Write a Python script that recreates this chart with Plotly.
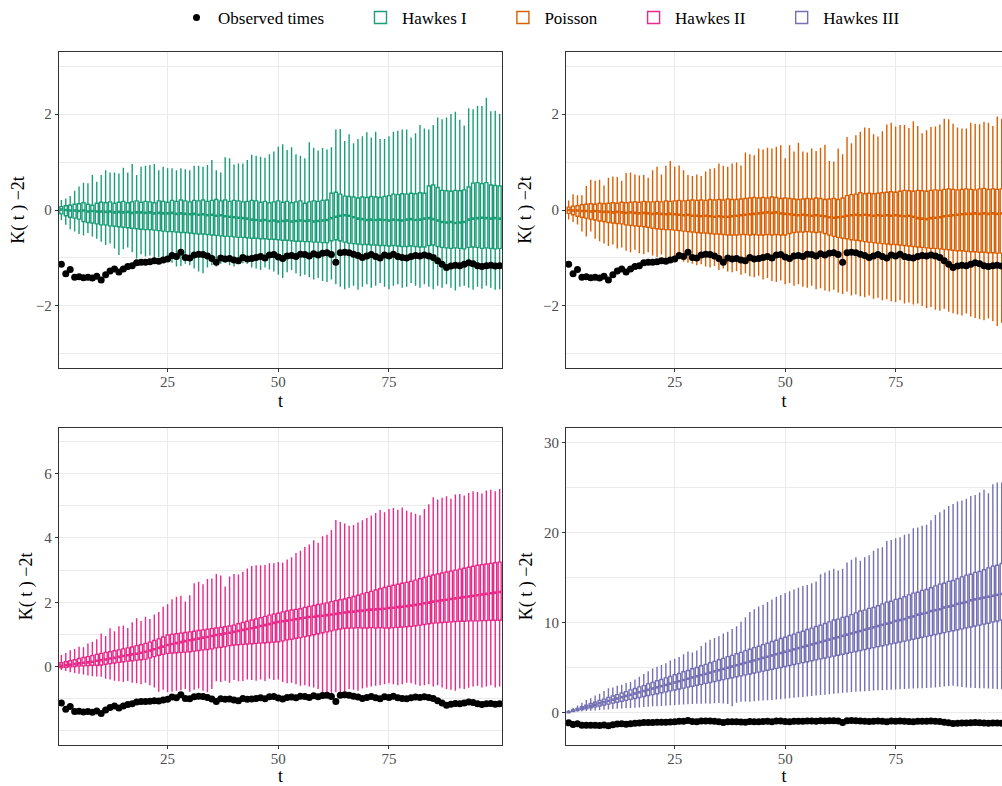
import plotly.graph_objects as go

# ---- data -------------------------------------------------------------
t = list(range(1, 101))

observed = [-1.13, -1.33, -1.24, -1.40, -1.39, -1.41, -1.40, -1.42, -1.38, -1.46,
            -1.35, -1.27, -1.23, -1.29, -1.23, -1.18, -1.16, -1.10, -1.09, -1.09,
            -1.08, -1.06, -1.07, -1.04, -1.02, -0.95, -0.97, -0.88, -0.99, -1.00,
            -0.94, -0.92, -0.93, -0.96, -1.01, -1.09, -1.00, -1.02, -1.01, -1.04,
            -1.06, -0.99, -1.02, -1.01, -0.99, -0.97, -1.00, -0.94, -0.93, -0.98,
            -1.01, -0.96, -0.95, -0.97, -0.92, -0.93, -0.96, -0.91, -0.94, -0.90,
            -0.89, -0.93, -1.09, -0.89, -0.88, -0.89, -0.92, -0.95, -0.99, -0.96,
            -0.93, -0.97, -1.00, -0.94, -0.96, -0.92, -0.97, -0.99, -1.00, -0.97,
            -0.95, -0.96, -0.94, -0.96, -0.99, -1.06, -1.13, -1.20, -1.17, -1.15,
            -1.16, -1.13, -1.10, -1.12, -1.16, -1.18, -1.16, -1.15, -1.17, -1.16]

# Hawkes I
h1_hi = [0.21, 0.24, 0.29, 0.40, 0.49, 0.57, 0.56, 0.73, 0.59, 0.73,
         0.83, 0.78, 0.78, 0.76, 0.88, 0.78, 0.96, 0.73, 0.90, 0.92,
         0.94, 0.96, 0.83, 0.90, 0.87, 0.87, 0.83, 0.87, 0.85, 0.83,
         0.92, 0.92, 0.90, 0.94, 1.04, 0.83, 0.78, 1.10, 1.08, 0.95,
         0.97, 0.97, 1.04, 1.15, 1.13, 1.11, 1.09, 1.16, 1.22, 1.32,
         1.37, 1.25, 1.31, 1.16, 1.13, 1.08, 1.41, 1.30, 1.24, 1.29,
         1.26, 1.31, 1.68, 1.69, 1.44, 1.58, 1.39, 1.48, 1.54, 1.62,
         1.51, 1.63, 1.48, 1.48, 1.54, 1.63, 1.65, 1.68, 1.68, 1.51,
         1.60, 1.77, 1.70, 1.68, 1.77, 1.93, 1.89, 1.93, 2.00, 2.05,
         1.88, 1.76, 2.12, 2.10, 2.17, 2.17, 2.34, 2.06, 2.07, 2.00]
h1_q3 = [0.07, 0.09, 0.10, 0.12, 0.13, 0.15, 0.12, 0.10, 0.14, 0.16,
         0.15, 0.17, 0.14, 0.16, 0.18, 0.15, 0.17, 0.19, 0.16, 0.18,
         0.17, 0.15, 0.19, 0.18, 0.16, 0.20, 0.18, 0.21, 0.19, 0.17,
         0.20, 0.19, 0.21, 0.18, 0.20, 0.22, 0.19, 0.21, 0.18, 0.20,
         0.19, 0.17, 0.18, 0.20, 0.19, 0.16, 0.18, 0.15, 0.17, 0.19,
         0.16, 0.18, 0.15, 0.17, 0.19, 0.14, 0.17, 0.19, 0.18, 0.20,
         0.21, 0.35, 0.37, 0.33, 0.29, 0.28, 0.27, 0.25, 0.27, 0.26,
         0.28, 0.27, 0.26, 0.28, 0.30, 0.33, 0.32, 0.34, 0.33, 0.35,
         0.34, 0.36, 0.35, 0.50, 0.52, 0.47, 0.41, 0.40, 0.39, 0.41,
         0.40, 0.42, 0.48, 0.56, 0.57, 0.55, 0.57, 0.52, 0.51, 0.50]
h1_med = [0.01, 0.00, -0.01, -0.01, -0.02, -0.01, -0.03, -0.02, -0.03, -0.03,
          -0.04, -0.03, -0.05, -0.04, -0.05, -0.04, -0.06, -0.05, -0.05, -0.06,
          -0.05, -0.07, -0.06, -0.07, -0.07, -0.06, -0.08, -0.07, -0.08, -0.09,
          -0.08, -0.10, -0.09, -0.11, -0.10, -0.12, -0.11, -0.13, -0.14, -0.15,
          -0.16, -0.17, -0.18, -0.20, -0.21, -0.22, -0.21, -0.23, -0.22, -0.24,
          -0.23, -0.22, -0.24, -0.23, -0.22, -0.23, -0.22, -0.24, -0.23, -0.22,
          -0.21, -0.17, -0.14, -0.12, -0.11, -0.12, -0.15, -0.18, -0.19, -0.21,
          -0.20, -0.21, -0.20, -0.21, -0.22, -0.20, -0.21, -0.22, -0.20, -0.19,
          -0.21, -0.20, -0.18, -0.17, -0.19, -0.22, -0.25, -0.26, -0.25, -0.27,
          -0.26, -0.25, -0.20, -0.18, -0.17, -0.16, -0.17, -0.18, -0.17, -0.18]
h1_q1 = [-0.08, -0.12, -0.15, -0.17, -0.19, -0.24, -0.26, -0.27, -0.29, -0.31,
         -0.31, -0.33, -0.34, -0.35, -0.36, -0.37, -0.38, -0.39, -0.40, -0.41,
         -0.41, -0.42, -0.43, -0.44, -0.45, -0.45, -0.46, -0.47, -0.47, -0.48,
         -0.49, -0.50, -0.50, -0.51, -0.52, -0.53, -0.54, -0.55, -0.55, -0.56,
         -0.57, -0.57, -0.58, -0.59, -0.59, -0.60, -0.60, -0.61, -0.61, -0.62,
         -0.63, -0.63, -0.64, -0.65, -0.65, -0.66, -0.66, -0.67, -0.67, -0.68,
         -0.68, -0.64, -0.62, -0.64, -0.67, -0.69, -0.70, -0.71, -0.72, -0.72,
         -0.73, -0.73, -0.74, -0.74, -0.75, -0.74, -0.75, -0.76, -0.76, -0.75,
         -0.76, -0.77, -0.77, -0.74, -0.73, -0.76, -0.78, -0.79, -0.80, -0.79,
         -0.80, -0.81, -0.78, -0.77, -0.78, -0.80, -0.79, -0.80, -0.81, -0.80]
h1_lo = [-0.21, -0.31, -0.40, -0.45, -0.50, -0.53, -0.48, -0.55, -0.60, -0.66,
         -0.73, -0.70, -0.80, -0.94, -0.82, -0.78, -0.88, -1.01, -0.92, -0.97,
         -0.95, -1.01, -0.98, -1.05, -1.08, -1.10, -1.18, -1.17, -1.12, -1.15,
         -1.22, -1.28, -1.32, -1.20, -1.15, -1.18, -1.12, -1.10, -1.15, -1.18,
         -1.13, -1.11, -1.12, -1.20, -1.22, -1.25, -1.20, -1.24, -1.28, -1.35,
         -1.42, -1.30, -1.25, -1.32, -1.38, -1.35, -1.40, -1.45, -1.42, -1.48,
         -1.50, -1.45, -1.55, -1.60, -1.65, -1.62, -1.58, -1.66, -1.60, -1.55,
         -1.62, -1.58, -1.52, -1.60, -1.65, -1.58, -1.55, -1.62, -1.60, -1.52,
         -1.58, -1.62, -1.55, -1.60, -1.65, -1.58, -1.62, -1.55, -1.62, -1.68,
         -1.60, -1.58, -1.62, -1.66, -1.60, -1.64, -1.58, -1.62, -1.66, -1.65]

# Poisson
po_hi = [0.20, 0.33, 0.31, 0.31, 0.50, 0.63, 0.61, 0.63, 0.51, 0.67,
         0.70, 0.69, 0.61, 0.77, 0.78, 0.74, 0.72, 0.73, 0.67, 0.83,
         0.90, 0.74, 0.92, 1.02, 0.90, 0.93, 0.83, 0.73, 0.71, 0.74,
         0.71, 0.80, 0.86, 0.87, 0.97, 0.92, 0.90, 0.97, 0.99, 0.93,
         1.20, 1.16, 1.14, 1.28, 1.26, 1.30, 1.28, 1.32, 1.35, 1.08,
         1.35, 1.22, 1.40, 1.22, 1.20, 1.28, 1.23, 1.30, 1.36, 1.02,
         1.01, 1.28, 1.16, 1.52, 1.39, 1.56, 1.63, 1.72, 1.71, 1.58,
         1.53, 1.64, 1.78, 1.82, 1.74, 1.77, 1.77, 1.71, 1.85, 1.75,
         1.60, 1.66, 1.73, 1.74, 1.78, 1.90, 1.89, 1.80, 1.72, 1.70,
         1.70, 1.82, 1.80, 1.79, 1.84, 1.82, 1.75, 1.95, 1.90, 1.88]
po_q3 = [0.06, 0.08, 0.09, 0.11, 0.12, 0.13, 0.12, 0.14, 0.13, 0.14,
         0.15, 0.14, 0.16, 0.15, 0.16, 0.17, 0.16, 0.18, 0.17, 0.17,
         0.18, 0.17, 0.19, 0.18, 0.19, 0.20, 0.19, 0.20, 0.21, 0.20,
         0.21, 0.20, 0.22, 0.21, 0.22, 0.21, 0.23, 0.22, 0.22, 0.23,
         0.24, 0.25, 0.26, 0.25, 0.26, 0.25, 0.27, 0.26, 0.24, 0.25,
         0.24, 0.23, 0.22, 0.23, 0.24, 0.23, 0.25, 0.24, 0.22, 0.23,
         0.24, 0.22, 0.25, 0.30, 0.32, 0.33, 0.36, 0.34, 0.35, 0.34,
         0.35, 0.36, 0.37, 0.38, 0.37, 0.39, 0.41, 0.40, 0.39, 0.41,
         0.40, 0.39, 0.41, 0.42, 0.41, 0.43, 0.44, 0.43, 0.42, 0.43,
         0.44, 0.43, 0.42, 0.44, 0.45, 0.43, 0.44, 0.43, 0.44, 0.44]
po_med = [0.00, -0.01, -0.01, -0.02, -0.02, -0.03, -0.02, -0.03, -0.04, -0.04,
          -0.05, -0.04, -0.05, -0.06, -0.05, -0.06, -0.07, -0.06, -0.07, -0.08,
          -0.07, -0.08, -0.09, -0.08, -0.09, -0.10, -0.11, -0.10, -0.12, -0.12,
          -0.13, -0.12, -0.13, -0.14, -0.13, -0.14, -0.14, -0.13, -0.12, -0.11,
          -0.10, -0.09, -0.08, -0.07, -0.06, -0.05, -0.06, -0.05, -0.07, -0.08,
          -0.09, -0.10, -0.11, -0.10, -0.11, -0.12, -0.11, -0.12, -0.13, -0.15,
          -0.16, -0.15, -0.14, -0.12, -0.11, -0.10, -0.11, -0.10, -0.11, -0.12,
          -0.11, -0.12, -0.11, -0.12, -0.11, -0.12, -0.13, -0.12, -0.14, -0.17,
          -0.18, -0.19, -0.17, -0.16, -0.15, -0.13, -0.12, -0.11, -0.10, -0.09,
          -0.08, -0.08, -0.07, -0.08, -0.07, -0.08, -0.07, -0.08, -0.07, -0.08]
po_q1 = [-0.07, -0.10, -0.13, -0.15, -0.17, -0.19, -0.21, -0.23, -0.24, -0.26,
         -0.27, -0.28, -0.29, -0.31, -0.32, -0.33, -0.34, -0.35, -0.36, -0.38,
         -0.39, -0.40, -0.41, -0.41, -0.42, -0.43, -0.44, -0.45, -0.46, -0.47,
         -0.48, -0.48, -0.49, -0.50, -0.50, -0.51, -0.52, -0.52, -0.52, -0.51,
         -0.51, -0.52, -0.51, -0.52, -0.52, -0.51, -0.52, -0.51, -0.52, -0.52,
         -0.49, -0.47, -0.46, -0.46, -0.45, -0.46, -0.47, -0.46, -0.49, -0.52,
         -0.55, -0.57, -0.59, -0.60, -0.62, -0.63, -0.64, -0.66, -0.67, -0.68,
         -0.69, -0.70, -0.71, -0.72, -0.72, -0.73, -0.74, -0.75, -0.76, -0.77,
         -0.78, -0.79, -0.80, -0.80, -0.81, -0.82, -0.83, -0.84, -0.85, -0.85,
         -0.86, -0.87, -0.87, -0.88, -0.88, -0.89, -0.89, -0.90, -0.90, -0.91]
po_lo = [-0.20, -0.25, -0.30, -0.45, -0.55, -0.45, -0.60, -0.65, -0.70, -0.75,
         -0.72, -0.80, -0.78, -0.85, -0.88, -0.83, -0.90, -0.92, -0.88, -0.95,
         -0.98, -0.93, -1.00, -1.02, -1.05, -1.03, -1.08, -1.10, -1.12, -1.15,
         -1.13, -1.18, -1.20, -1.17, -1.25, -1.22, -1.28, -1.30, -1.27, -1.35,
         -1.32, -1.38, -1.40, -1.37, -1.45, -1.42, -1.48, -1.50, -1.47, -1.55,
         -1.52, -1.58, -1.55, -1.60, -1.62, -1.58, -1.65, -1.63, -1.68, -1.70,
         -1.66, -1.72, -1.75, -1.70, -1.78, -1.76, -1.80, -1.82, -1.78, -1.85,
         -1.83, -1.88, -1.86, -1.90, -1.92, -1.88, -1.95, -1.93, -1.97, -1.95,
         -2.00, -2.05, -2.02, -2.08, -2.10, -2.06, -2.12, -2.15, -2.18, -2.20,
         -2.16, -2.22, -2.25, -2.28, -2.30, -2.26, -2.32, -2.42, -2.35, -2.38]

# Hawkes II
h2_hi = [0.36, 0.42, 0.51, 0.55, 0.62, 0.60, 0.72, 0.77, 0.85, 1.03,
         0.95, 1.19, 1.10, 1.25, 1.28, 1.20, 1.38, 1.50, 1.42, 1.55,
         1.48, 1.62, 1.70, 1.86, 1.94, 2.09, 2.17, 2.20, 2.02, 2.22,
         2.59, 2.64, 2.56, 2.72, 2.74, 2.88, 2.83, 2.49, 2.80, 2.88,
         2.86, 2.95, 3.05, 3.13, 3.15, 3.15, 3.16, 3.21, 3.21, 3.25,
         3.23, 3.33, 3.40, 3.53, 3.60, 3.72, 3.80, 3.93, 3.85, 4.05,
         4.10, 4.25, 4.56, 4.50, 4.45, 4.38, 4.40, 4.48, 4.55, 4.62,
         4.70, 4.78, 4.87, 4.80, 4.90, 4.93, 4.88, 4.95, 4.85, 4.80,
         4.75, 4.71, 4.90, 5.05, 5.27, 5.20, 5.25, 5.30, 5.22, 5.35,
         5.37, 5.32, 5.40, 5.45, 5.43, 5.38, 5.48, 5.50, 5.45, 5.52]
h2_q3 = [0.12, 0.15, 0.18, 0.21, 0.25, 0.28, 0.31, 0.34, 0.38, 0.41,
         0.44, 0.46, 0.49, 0.52, 0.55, 0.58, 0.61, 0.65, 0.68, 0.72,
         0.76, 0.81, 0.86, 0.92, 0.98, 1.00, 1.02, 1.04, 1.06, 1.08,
         1.10, 1.12, 1.14, 1.16, 1.18, 1.20, 1.22, 1.24, 1.26, 1.29,
         1.33, 1.37, 1.41, 1.45, 1.48, 1.52, 1.56, 1.60, 1.63, 1.66,
         1.70, 1.73, 1.76, 1.78, 1.80, 1.84, 1.87, 1.90, 1.93, 1.95,
         1.98, 2.02, 2.05, 2.08, 2.10, 2.14, 2.18, 2.22, 2.26, 2.30,
         2.34, 2.38, 2.42, 2.46, 2.50, 2.53, 2.56, 2.59, 2.62, 2.65,
         2.69, 2.73, 2.77, 2.81, 2.85, 2.88, 2.91, 2.94, 2.97, 3.00,
         3.03, 3.06, 3.09, 3.12, 3.15, 3.17, 3.19, 3.21, 3.23, 3.25]
h2_med = [0.03, 0.05, 0.06, 0.08, 0.10, 0.12, 0.13, 0.15, 0.18, 0.20,
          0.22, 0.25, 0.27, 0.30, 0.33, 0.35, 0.38, 0.40, 0.43, 0.46,
          0.50, 0.54, 0.58, 0.62, 0.67, 0.70, 0.73, 0.76, 0.79, 0.82,
          0.84, 0.87, 0.90, 0.92, 0.95, 0.98, 1.00, 1.03, 1.05, 1.08,
          1.11, 1.14, 1.17, 1.19, 1.22, 1.26, 1.29, 1.32, 1.36, 1.39,
          1.41, 1.43, 1.45, 1.47, 1.50, 1.52, 1.54, 1.55, 1.57, 1.58,
          1.60, 1.62, 1.64, 1.66, 1.68, 1.70, 1.71, 1.73, 1.74, 1.76,
          1.77, 1.78, 1.79, 1.80, 1.82, 1.83, 1.85, 1.86, 1.88, 1.90,
          1.92, 1.94, 1.97, 1.99, 2.02, 2.04, 2.06, 2.08, 2.10, 2.12,
          2.14, 2.16, 2.18, 2.20, 2.22, 2.24, 2.26, 2.28, 2.30, 2.32]
h2_q1 = [-0.03, -0.02, -0.01, 0.00, 0.02, 0.02, 0.03, 0.04, 0.04, 0.05,
         0.07, 0.09, 0.11, 0.13, 0.15, 0.17, 0.18, 0.20, 0.21, 0.23,
         0.27, 0.31, 0.35, 0.38, 0.41, 0.42, 0.43, 0.44, 0.45, 0.46,
         0.48, 0.50, 0.52, 0.53, 0.55, 0.58, 0.60, 0.62, 0.65, 0.67,
         0.68, 0.69, 0.70, 0.71, 0.72, 0.73, 0.74, 0.75, 0.76, 0.77,
         0.80, 0.83, 0.85, 0.88, 0.90, 0.93, 0.96, 0.99, 1.02, 1.05,
         1.08, 1.11, 1.14, 1.17, 1.19, 1.20, 1.20, 1.21, 1.20, 1.20,
         1.21, 1.20, 1.21, 1.20, 1.20, 1.21, 1.22, 1.23, 1.24, 1.25,
         1.27, 1.29, 1.31, 1.33, 1.35, 1.36, 1.37, 1.38, 1.39, 1.40,
         1.41, 1.41, 1.42, 1.42, 1.42, 1.43, 1.43, 1.44, 1.44, 1.44]
h2_lo = [-0.11, -0.14, -0.18, -0.20, -0.22, -0.25, -0.28, -0.30, -0.31, -0.32,
         -0.38, -0.40, -0.44, -0.46, -0.48, -0.45, -0.50, -0.52, -0.55, -0.50,
         -0.58, -0.65, -0.78, -0.72, -0.80, -0.78, -0.75, -0.74, -0.70, -0.78,
         -0.72, -0.68, -0.75, -0.80, -0.70, -0.46, -0.48, -0.44, -0.50, -0.42,
         -0.46, -0.45, -0.40, -0.42, -0.44, -0.40, -0.45, -0.38, -0.42, -0.40,
         -0.48, -0.52, -0.50, -0.55, -0.60, -0.58, -0.62, -0.65, -0.70, -0.80,
         -0.95, -0.92, -0.80, -0.85, -0.78, -0.70, -0.72, -0.75, -0.68, -0.65,
         -0.62, -0.60, -0.58, -0.55, -0.52, -0.55, -0.58, -0.55, -0.50, -0.52,
         -0.56, -0.60, -0.58, -0.55, -0.62, -0.58, -0.65, -0.70, -0.72, -0.75,
         -0.68, -0.70, -0.66, -0.62, -0.60, -0.65, -0.62, -0.58, -0.65, -0.62]

# Hawkes III
h3_hi = [0.30, 0.55, 0.80, 1.10, 1.40, 1.60, 1.90, 2.10, 2.40, 2.70,
         2.80, 3.00, 3.10, 3.30, 3.40, 3.70, 4.00, 4.30, 4.60, 4.90,
         5.10, 5.30, 5.50, 5.80, 6.00, 6.20, 6.50, 6.80, 6.70, 6.90,
         7.40, 7.80, 8.10, 8.30, 8.50, 8.80, 9.00, 9.30, 9.60, 10.1,
         10.6, 11.2, 11.5, 11.8, 12.0, 12.3, 12.6, 12.9, 13.1, 13.3,
         13.5, 13.7, 13.9, 14.1, 14.2, 14.4, 14.6, 15.4, 15.6, 15.8,
         16.0, 15.8, 16.0, 16.7, 17.0, 17.3, 16.9, 17.3, 17.5, 18.0,
         18.3, 18.4, 19.1, 19.2, 19.4, 19.5, 19.8, 19.9, 20.5, 20.6,
         20.8, 20.9, 21.4, 22.0, 22.3, 22.6, 23.0, 23.2, 23.5, 23.6,
         23.8, 24.1, 24.2, 24.5, 24.8, 24.4, 25.4, 25.6, 25.6, 25.8]
h3_q3 = [0.12, 0.31, 0.47, 0.66, 0.83, 1.01, 1.16, 1.35, 1.50, 1.68,
         1.85, 2.00, 2.19, 2.34, 2.53, 2.68, 2.87, 3.01, 3.20, 3.35,
         3.54, 3.69, 3.87, 4.02, 4.21, 4.36, 4.55, 4.69, 4.88, 5.03,
         5.22, 5.37, 5.55, 5.70, 5.89, 6.04, 6.23, 6.37, 6.56, 6.71,
         6.90, 7.05, 7.23, 7.38, 7.57, 7.72, 7.91, 8.05, 8.24, 8.39,
         8.58, 8.73, 8.91, 9.06, 9.25, 9.40, 9.59, 9.73, 9.92, 10.1,
         10.3, 10.4, 10.6, 10.7, 10.9, 11.1, 11.3, 11.4, 11.6, 11.7,
         11.9, 12.1, 12.3, 12.4, 12.6, 12.7, 12.9, 13.1, 13.3, 13.4,
         13.6, 13.7, 13.9, 14.1, 14.3, 14.4, 14.6, 14.7, 14.9, 15.1,
         15.3, 15.4, 15.6, 15.7, 15.9, 16.1, 16.3, 16.4, 16.6, 16.8]
h3_med = [0.06, 0.21, 0.34, 0.49, 0.62, 0.76, 0.89, 1.04, 1.17, 1.31,
          1.44, 1.58, 1.72, 1.86, 1.99, 2.13, 2.27, 2.41, 2.54, 2.68,
          2.81, 2.95, 3.08, 3.22, 3.36, 3.49, 3.63, 3.77, 3.91, 4.04,
          4.18, 4.31, 4.45, 4.59, 4.72, 4.86, 5.00, 5.13, 5.27, 5.41,
          5.54, 5.68, 5.81, 5.95, 6.09, 6.22, 6.36, 6.50, 6.63, 6.77,
          6.90, 7.04, 7.18, 7.31, 7.45, 7.59, 7.72, 7.86, 7.99, 8.13,
          8.27, 8.40, 8.54, 8.68, 8.81, 8.95, 9.08, 9.22, 9.36, 9.49,
          9.63, 9.77, 9.90, 10.0, 10.2, 10.3, 10.4, 10.6, 10.7, 10.9,
          11.0, 11.1, 11.3, 11.4, 11.5, 11.7, 11.8, 11.9, 12.1, 12.2,
          12.3, 12.5, 12.6, 12.7, 12.8, 12.9, 13.0, 13.1, 13.2, 13.3]
h3_q1 = [0.00, 0.12, 0.22, 0.33, 0.43, 0.54, 0.64, 0.74, 0.85, 0.95,
         1.06, 1.16, 1.27, 1.37, 1.48, 1.58, 1.69, 1.79, 1.90, 2.00,
         2.10, 2.21, 2.31, 2.42, 2.52, 2.63, 2.73, 2.84, 2.94, 3.05,
         3.15, 3.26, 3.36, 3.46, 3.57, 3.67, 3.78, 3.88, 3.99, 4.09,
         4.20, 4.30, 4.41, 4.51, 4.62, 4.72, 4.82, 4.93, 5.03, 5.14,
         5.24, 5.35, 5.45, 5.56, 5.66, 5.77, 5.87, 5.98, 6.08, 6.18,
         6.29, 6.39, 6.50, 6.60, 6.71, 6.81, 6.92, 7.02, 7.13, 7.23,
         7.34, 7.44, 7.54, 7.65, 7.75, 7.86, 7.96, 8.07, 8.17, 8.28,
         8.38, 8.49, 8.59, 8.70, 8.80, 8.90, 9.01, 9.11, 9.22, 9.32,
         9.43, 9.53, 9.64, 9.74, 9.85, 9.95, 10.1, 10.2, 10.3, 10.4]
h3_lo = [0.00, 0.05, 0.10, 0.14, 0.18, 0.22, 0.25, 0.28, 0.32, 0.36,
         0.40, 0.42, 0.45, 0.48, 0.52, 0.55, 0.58, 0.62, 0.66, 0.70,
         0.72, 0.75, 0.78, 0.82, 0.85, 0.88, 0.90, 0.92, 0.95, 0.98,
         1.00, 1.02, 0.98, 1.05, 1.08, 1.02, 0.95, 0.70, 1.10, 1.20,
         1.25, 1.22, 1.28, 1.32, 1.35, 1.38, 1.42, 1.45, 1.50, 1.55,
         1.60, 1.65, 1.70, 1.75, 1.80, 1.85, 1.90, 1.95, 2.00, 2.05,
         2.10, 2.15, 2.20, 2.25, 2.30, 2.32, 2.35, 2.38, 2.42, 2.45,
         2.48, 2.50, 2.52, 2.55, 2.58, 2.60, 2.62, 2.65, 2.68, 2.70,
         2.72, 2.75, 2.78, 2.80, 2.85, 2.90, 2.95, 3.00, 2.92, 2.85,
         2.80, 2.78, 2.75, 2.72, 2.70, 2.68, 2.65, 2.62, 2.60, 2.60]

x_ticks = [25, 50, 75]

# ---- styling ----------------------------------------------------------
FONT = "Liberation Serif"
GRID = "#EBEBEB"
FRAME = "#333333"
TICK_TXT = "#4D4D4D"
W, H = 1002, 786
BOX_W = 0.68            # box width in t units
PAD = "\u00a0" * 7      # extra room after each legend entry

panels = [
    dict(name="Hawkes I", color="#1B9E77",
         stats=(h1_lo, h1_q1, h1_med, h1_q3, h1_hi),
         xa="x", ya="y", yrange=[-3.3, 3.3], ymajor=[-2, 0, 2], yminor=[-3, -1, 1, 3]),
    dict(name="Poisson", color="#D95F02",
         stats=(po_lo, po_q1, po_med, po_q3, po_hi),
         xa="x2", ya="y2", yrange=[-3.3, 3.3], ymajor=[-2, 0, 2], yminor=[-3, -1, 1, 3]),
    dict(name="Hawkes II", color="#E7298A",
         stats=(h2_lo, h2_q1, h2_med, h2_q3, h2_hi),
         xa="x3", ya="y3", yrange=[-2.44, 7.43], ymajor=[0, 2, 4, 6], yminor=[-2, -1, 1, 3, 5, 7]),
    dict(name="Hawkes III", color="#7570B3",
         stats=(h3_lo, h3_q1, h3_med, h3_q3, h3_hi),
         xa="x4", ya="y4", yrange=[-3.6, 31.7], ymajor=[0, 10, 20, 30], yminor=[5, 15, 25]),
]

fig = go.Figure()

for i, p in enumerate(panels):
    lo, q1, med, q3, hi = p["stats"]
    label = p["name"] + (PAD if i < len(panels) - 1 else "")
    fig.add_trace(go.Box(
        x=t, lowerfence=lo, q1=q1, median=med, q3=q3, upperfence=hi,
        orientation="v", name=label, legendrank=2 + i,
        line=dict(color=p["color"], width=1.4), fillcolor="white",
        whiskerwidth=0, width=BOX_W, boxpoints=False, hoverinfo="skip",
        xaxis=p["xa"], yaxis=p["ya"],
    ))
    # heavier median bar across each box
    mx, my = [], []
    for ti, m in zip(t, med):
        mx += [ti - BOX_W / 2, ti + BOX_W / 2, None]
        my += [m, m, None]
    fig.add_trace(go.Scatter(
        x=mx, y=my, mode="lines", line=dict(color=p["color"], width=2.6),
        showlegend=False, hoverinfo="skip", xaxis=p["xa"], yaxis=p["ya"],
    ))
    fig.add_trace(go.Scatter(
        x=t, y=observed, mode="markers", name="Observed times" + PAD,
        marker=dict(color="black", size=7, line=dict(width=0)),
        showlegend=(i == 0), legendrank=1, hoverinfo="skip",
        xaxis=p["xa"], yaxis=p["ya"],
    ))

# panel geometry in pixels (left, right, top, bottom)
boxes = {
    "1": (58.7, 502.3, 51.7, 368.3),
    "2": (566.0, 1002.0, 51.7, 368.3),
    "3": (58.7, 502.3, 427.7, 745.0),
    "4": (566.0, 1002.0, 427.7, 745.0),
}
x_ranges = {"1": [0.4, 100.6], "2": [0.4, 99.07], "3": [0.4, 100.6], "4": [0.4, 99.07]}

tickfont = dict(family=FONT, size=15, color=TICK_TXT)
titlefont = dict(family=FONT, size=18, color="black")

layout_axes = {}
for i, p in enumerate(panels):
    k = str(i + 1)
    l, r, tp, bt = boxes[k]
    right_col = k in ("2", "4")
    xname = "xaxis" if k == "1" else "xaxis" + k
    yname = "yaxis" if k == "1" else "yaxis" + k
    layout_axes[xname] = dict(
        domain=[l / W, r / W], range=x_ranges[k], anchor=p["ya"],
        tickmode="array", tickvals=x_ticks, ticktext=[str(v) for v in x_ticks],
        showgrid=True, gridcolor=GRID, gridwidth=1.1, zeroline=False,
        showline=True, linecolor=FRAME, linewidth=1.1, mirror=True,
        ticks="outside", ticklen=3, tickwidth=1.1, tickcolor=FRAME,
        tickfont=tickfont, ticklabelstandoff=-3,
        title=dict(text="t", font=titlefont, standoff=5),
        fixedrange=True,
    )
    layout_axes[yname] = dict(
        domain=[1 - bt / H, 1 - tp / H], range=p["yrange"], anchor=p["xa"],
        tickmode="array", tickvals=p["ymajor"],
        showgrid=True, gridcolor=GRID, gridwidth=1.1, zeroline=False,
        minor=dict(tickvals=p["yminor"], showgrid=True, gridcolor=GRID,
                   gridwidth=0.6, ticks=""),
        showline=True, linecolor=FRAME, linewidth=1.1, mirror=(not right_col),
        ticks="outside", ticklen=3, tickwidth=1.1, tickcolor=FRAME,
        tickfont=tickfont,
        title=dict(text="K( t ) \u22122t", font=titlefont, standoff=6),
        fixedrange=True,
    )

fig.update_layout(
    width=W, height=H,
    margin=dict(l=0, r=0, t=0, b=0),
    paper_bgcolor="white", plot_bgcolor="white",
    font=dict(family=FONT, color="black"),
    showlegend=True,
    legend=dict(orientation="h", x=175 / W, xanchor="left", y=1.0, yanchor="top",
                itemwidth=33,
                font=dict(family=FONT, size=17, color="black"),
                bgcolor="rgba(0,0,0,0)", traceorder="normal"),
    **layout_axes,
)

fig.write_html("out.html")
